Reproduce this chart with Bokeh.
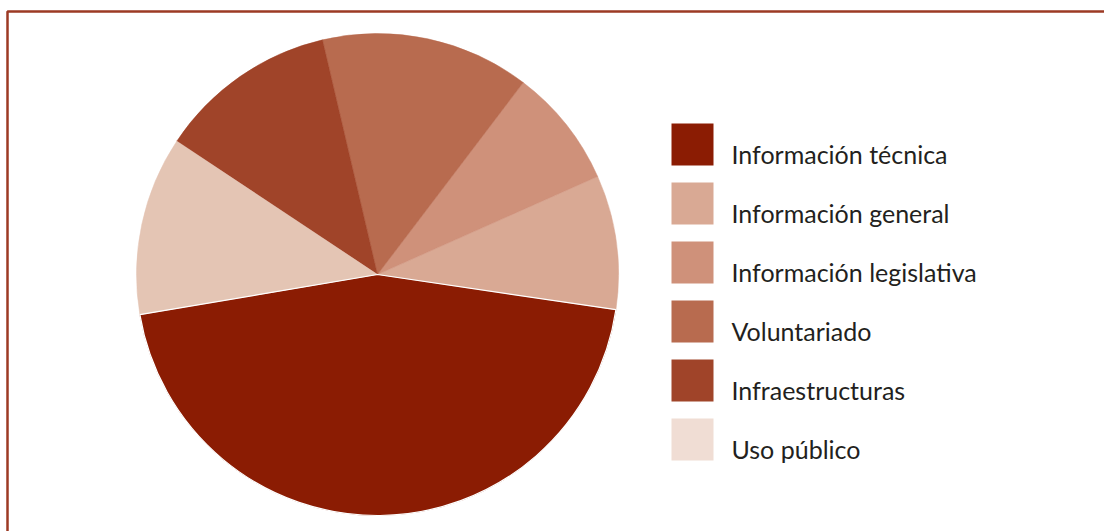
from math import pi

from bokeh.core.properties import value
from bokeh.embed import file_html
from bokeh.models import ColumnDataSource, Range1d
from bokeh.plotting import figure
from bokeh.resources import INLINE

# Share of enquiries by topic (%)
categories = [
    "Información técnica",
    "Información general",
    "Información legislativa",
    "Voluntariado",
    "Infraestructuras",
    "Uso público",
]
values = [45, 9, 8, 14, 12, 12]
slice_colors = ["#8B1C03", "#D9A994", "#CF917A", "#B86B4F", "#A04429", "#E4C5B4"]
swatch_colors = ["#8B1C03", "#D9A994", "#CF917A", "#B86B4F", "#A04429", "#F0DDD4"]

W, H = 1104, 531
p = figure(width=W, height=H, output_backend="svg", toolbar_location=None,
           x_range=Range1d(0, W), y_range=Range1d(0, H),
           min_border=0, outline_line_color=None, background_fill_color="white")
p.axis.visible = False
p.grid.visible = False

# Frame lines along the top and the left edge
p.line([7, 7, W], [0, H - 11, H - 11], line_color="#9C3A24", line_width=2.5)

# Pie wedges, laid out anticlockwise from the start of the largest slice
total = float(sum(values))
start0 = -8.4 * pi / 180 - values[0] / total * 2 * pi
starts, ends = [], []
a = start0
for v in values:
    starts.append(a)
    a += v / total * 2 * pi
    ends.append(a)

cx, cy, r = 377, H - 274, 241
src = ColumnDataSource(dict(start=starts, end=ends, color=slice_colors,
                            name=categories))
p.wedge(x=cx, y=cy, radius=r, start_angle="start", end_angle="end",
        fill_color="color", line_color="color", line_width=0.5, source=src)

# Thin white seam where the largest slice meets its neighbours
p.wedge(x=cx, y=cy, radius=r, start_angle=starts[0], end_angle=ends[0],
        fill_color=None, line_color="white", line_width=1.2)

# Legend: swatches with labels
sw_x, sw_top, sw_size, sw_gap = 671, 123, 42, 59
ys = [H - (sw_top + i * sw_gap + sw_size / 2) for i in range(len(categories))]
leg = ColumnDataSource(dict(x=[sw_x + sw_size / 2] * len(categories), y=ys,
                            ty=[y - 9 for y in ys], color=swatch_colors,
                            label=categories))
p.rect(x="x", y="y", width=sw_size, height=sw_size, fill_color="color",
       line_color=None, source=leg)
p.text(x=731, y="ty", text="label", source=leg, text_font=value("Lato"),
       text_font_size="25px", text_color="#231F20", text_baseline="middle",
       text_align="left")

open("out.html", "w").write(file_html(p, INLINE))
